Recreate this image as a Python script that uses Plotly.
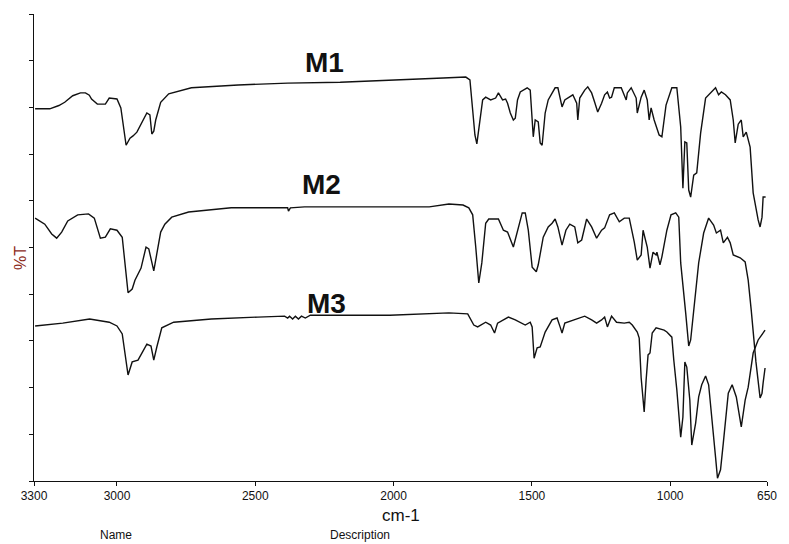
import plotly.graph_objects as go

# FTIR spectra of three samples, stacked (%T, arbitrary offsets)
m1_wn = [3296, 3243, 3210, 3189, 3160, 3132, 3114, 3100, 3092, 3071, 3042, 3028, 3000,
         2986, 2967, 2953, 2942, 2928, 2892, 2881, 2874, 2867, 2860,
         2842, 2813, 2777, 2731, 2562, 2383, 2193, 2014, 1821, 1739,
         1724, 1714, 1706, 1699, 1692, 1678, 1667, 1649, 1631, 1621,
         1606, 1595, 1588, 1578, 1567, 1560, 1552, 1542, 1517, 1506,
         1495, 1488, 1477, 1470, 1463, 1452, 1441, 1416, 1406, 1391,
         1381, 1370, 1352, 1338, 1334, 1327, 1309, 1298, 1284, 1273,
         1262, 1248, 1237, 1227, 1219, 1212, 1202, 1177, 1159, 1155,
         1141, 1123, 1119, 1105, 1094, 1083, 1076, 1069, 1058, 1040,
         1030, 1015, 994, 976, 962, 954, 947, 940, 933, 926,
         915, 904, 890, 872, 851, 836, 825, 815, 800, 783,
         772, 765, 754, 743, 736, 725, 711, 700, 682, 675,
         668, 664, 655]
m1_t = [79.7, 79.7, 80.4, 81.1, 82.5, 83.1, 83.1, 82.6, 81.8, 80.7, 80.7, 82.0, 81.8,
        79.9, 71.9, 73.4, 73.9, 74.7, 78.8, 78.4, 74.3, 74.9, 77.3,
        81.1, 82.9, 83.5, 84.2, 84.8, 85.2, 85.4, 85.9, 86.3, 86.5,
        85.9, 79.4, 74.1, 72.2, 75.2, 81.6, 82.2, 81.6, 82.0, 83.1,
        81.6, 81.8, 80.9, 78.8, 77.3, 77.7, 81.6, 83.3, 84.2, 83.7,
        73.7, 77.3, 76.9, 72.4, 71.9, 78.8, 81.6, 84.2, 84.2, 80.1,
        81.6, 82.0, 82.7, 80.9, 77.3, 82.0, 83.7, 84.4, 83.1, 81.1,
        79.0, 80.9, 82.7, 83.3, 82.0, 82.2, 84.2, 84.2, 81.6, 83.1,
        84.2, 82.0, 78.8, 82.2, 83.7, 81.6, 77.3, 79.9, 77.3, 74.1,
        73.7, 80.5, 84.2, 84.2, 75.8, 62.7, 72.6, 72.4, 62.3, 60.8,
        65.5, 66.0, 74.5, 82.0, 83.3, 84.2, 82.7, 83.3, 82.7, 81.6,
        77.3, 72.4, 76.4, 77.3, 73.7, 74.7, 71.5, 61.7, 55.9, 54.4,
        56.5, 60.8, 60.8]

m2_wn = [3296, 3261, 3236, 3218, 3200, 3178, 3142, 3103, 3082, 3060,
         3042, 3024, 3000, 2981, 2960, 2945, 2935, 2913, 2895, 2885,
         2867, 2856, 2842, 2827, 2802, 2741, 2587, 2383, 2380, 2373,
         2322, 2014, 1871, 1800, 1749, 1728, 1714, 1703, 1692, 1681,
         1667, 1656, 1621, 1603, 1588, 1567, 1552, 1535, 1524, 1513,
         1499, 1484, 1477, 1459, 1441, 1427, 1416, 1406, 1391, 1377,
         1363, 1345, 1334, 1320, 1302, 1284, 1266, 1248, 1237, 1219,
         1202, 1184, 1166, 1148, 1130, 1119, 1105, 1098, 1083, 1073,
         1062, 1051, 1048, 1037, 1030, 1012, 997, 980, 969, 962,
         944, 933, 926, 915, 897, 879, 861, 843, 833, 818,
         808, 793, 783, 772, 747, 729, 718, 707, 697, 690,
         675, 668, 664, 657]
m2_t = [56.3, 55.0, 52.9, 52.0, 53.3, 55.7, 57.0, 57.2, 56.3, 52.0,
        52.2, 54.0, 53.7, 52.2, 40.3, 41.1, 43.0, 45.6, 50.1, 49.7,
        45.0, 49.0, 53.3, 55.0, 56.5, 57.6, 58.5, 58.5, 57.8, 58.5,
        58.7, 58.7, 58.7, 59.3, 59.1, 58.5, 57.0, 50.1, 42.4, 46.7,
        55.2, 56.1, 56.1, 53.7, 53.3, 50.1, 53.7, 57.4, 57.4, 53.7,
        45.8, 44.8, 46.3, 52.2, 54.4, 55.2, 56.1, 54.4, 50.5, 53.7,
        55.0, 54.4, 51.0, 51.6, 56.1, 54.4, 52.0, 53.7, 54.2, 57.0,
        57.4, 55.5, 56.3, 56.3, 51.2, 47.3, 48.4, 53.7, 50.1, 45.6,
        49.0, 48.4, 49.0, 46.3, 48.0, 53.7, 57.0, 57.4, 56.5, 46.7,
        36.0, 28.9, 30.2, 36.0, 46.7, 53.1, 56.3, 54.8, 53.1, 53.7,
        51.0, 52.2, 51.0, 48.4, 47.8, 46.9, 43.0, 36.6, 30.2, 25.5,
        17.8, 18.8, 21.0, 24.2]

m3_wn = [3296, 3196, 3099, 3028, 3000, 2981, 2960, 2945, 2924, 2892,
         2877, 2867, 2856, 2838, 2795, 2659, 2491, 2394, 2383, 2376,
         2365, 2355, 2344, 2333, 2319, 2301, 2014, 1800, 1732, 1721,
         1710, 1696, 1667, 1649, 1635, 1624, 1603, 1585, 1560, 1524,
         1506, 1499, 1492, 1481, 1470, 1452, 1427, 1409, 1398, 1391,
         1381, 1356, 1334, 1309, 1284, 1266, 1248, 1237, 1227, 1212,
         1194, 1166, 1148, 1137, 1119, 1112, 1105, 1094, 1087, 1080,
         1073, 1065, 1051, 1022, 1012, 994, 987, 976, 962, 954,
         947, 940, 929, 922, 908, 897, 886, 872, 861, 851,
         836, 829, 818, 808, 790, 776, 761, 743, 729, 718,
         700, 682, 664, 657]
m3_t = [33.2, 33.8, 34.7, 34.0, 33.2, 31.5, 22.7, 25.5, 25.9, 29.3,
        28.9, 25.9, 28.7, 32.8, 34.0, 34.7, 35.1, 35.3, 34.9, 35.3,
        34.7, 35.3, 34.7, 35.3, 34.9, 35.5, 35.5, 36.0, 35.8, 34.7,
        33.4, 33.0, 34.0, 33.4, 31.7, 33.8, 34.5, 35.1, 34.5, 33.4,
        34.0, 33.0, 26.3, 28.5, 28.7, 31.9, 34.5, 34.9, 33.0, 31.7,
        33.8, 34.3, 34.9, 35.3, 34.5, 33.8, 34.5, 35.1, 33.0, 35.3,
        34.0, 33.8, 34.0, 33.4, 31.9, 30.6, 22.1, 14.8, 21.6, 27.0,
        27.4, 31.7, 32.8, 32.3, 31.9, 30.8, 25.9, 19.5, 9.4, 13.7,
        25.5, 24.4, 17.3, 7.7, 12.4, 18.0, 20.6, 22.5, 20.6, 13.7,
        5.1, 0.6, 2.4, 8.1, 18.8, 20.6, 18.0, 11.6, 17.3, 20.1,
        27.4, 30.2, 31.9, 32.3]

assert len(m1_wn) == len(m1_t)
assert len(m2_wn) == len(m2_t)
assert len(m3_wn) == len(m3_t)

sample_names = ["M1", "M2", "M3"]
label_wn = [2250, 2262, 2244]
label_t = [89.7, 63.4, 38.1]

x_ticks = [3300, 3000, 2500, 2000, 1500, 1000, 650]
y_ticks = list(range(0, 101, 10))

fig = go.Figure()
for wn, t, name in zip([m1_wn, m2_wn, m3_wn], [m1_t, m2_t, m3_t], sample_names):
    fig.add_trace(go.Scatter(x=wn, y=t, mode="lines", name=name,
                             line=dict(color="#111111", width=1.4),
                             showlegend=False, hoverinfo="x+y"))

for name, xw, yt in zip(sample_names, label_wn, label_t):
    fig.add_annotation(x=xw, y=yt, xref="x", yref="y", text="<b>%s</b>" % name,
                       showarrow=False, font=dict(size=28, color="#111111",
                                                  family="Liberation Sans, Arial"))

base_font = dict(family="Liberation Sans, Arial", color="#111111")
plot_w = 789 - 34 - 12

fig.add_annotation(xref="paper", yref="paper", x=0.5, y=-0.073, text="cm-1",
                   showarrow=False, font=dict(size=17, **base_font),
                   xanchor="center", yanchor="middle")
fig.add_annotation(xref="paper", yref="paper", x=(117 - 34) / plot_w, y=-0.1156,
                   text="Name", showarrow=False, font=dict(size=12, **base_font),
                   xanchor="center", yanchor="middle")
fig.add_annotation(xref="paper", yref="paper", x=(364 - 34) / plot_w, y=-0.1156,
                   text="Description", showarrow=False, font=dict(size=12, **base_font),
                   xanchor="center", yanchor="middle")
fig.add_annotation(xref="paper", yref="paper", x=-0.019, y=0.4775, text="%T",
                   showarrow=False, textangle=-90,
                   font=dict(size=16, family="Liberation Sans, Arial", color="#8b2a1a"),
                   xanchor="center", yanchor="middle")

fig.update_layout(
    width=789, height=544,
    margin=dict(l=34, r=12, t=14, b=63),
    paper_bgcolor="white", plot_bgcolor="white",
    font=dict(family="Liberation Sans, Arial", size=12, color="#111111"),
    xaxis=dict(range=[3300, 650], tickmode="array", tickvals=x_ticks,
               ticktext=[str(v) for v in x_ticks], ticks="outside", ticklen=4,
               tickcolor="#111111", showline=True, linecolor="#111111", linewidth=1,
               showgrid=False, zeroline=False, tickfont=dict(size=12)),
    yaxis=dict(range=[0, 100], tickmode="array", tickvals=y_ticks,
               showticklabels=False, ticks="outside", ticklen=4,
               tickcolor="#111111", showline=True, linecolor="#111111", linewidth=1,
               showgrid=False, zeroline=False),
)

fig.write_html("out.html")
